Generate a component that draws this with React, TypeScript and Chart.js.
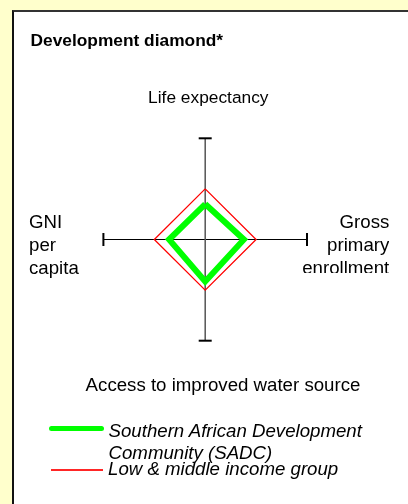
import React, { useEffect, useRef } from "react";
import { Chart, registerables } from "chart.js";

Chart.register(...registerables);

// ---- data ----
const axisLabels = ["Life expectancy", "Gross primary enrollment", "Access to improved water source", "GNI per capita"];
const seriesNames = ["Southern African Development Community (SADC)", "Low & middle income group"];
// values in axis order: top, right, bottom, left
const sadcValues = [35, 38, 41.5, 35.5];
const lowMiddleValues = [50, 50, 50, 50];
const axisMax = 100;

const GREEN = "#00FF00";
const RED = "#FF0000";
const FONT = '"Liberation Sans", Arial, Helvetica, sans-serif';

const dirs = [
  [0, 1],
  [1, 0],
  [0, -1],
  [-1, 0],
];

function toDiamond(vals: number[]) {
  const pts = vals.map((v, i) => ({ x: dirs[i][0] * v, y: dirs[i][1] * v }));
  pts.push({ ...pts[0] });
  return pts;
}

type LabelProps = {
  x: number;
  baseline: number;
  size: number;
  lines: string[];
  lh?: number;
  align?: "left" | "center" | "right";
  italic?: boolean;
  bold?: boolean;
  clipBottom?: number;
};

function Label({ x, baseline, size, lines, lh, align = "left", italic, bold, clipBottom }: LabelProps) {
  const lineH = lh ?? size * 1.15;
  const top = baseline - ((lineH - 1.117 * size) / 2 + 0.905 * size);
  const style: React.CSSProperties = {
    position: "absolute",
    top,
    fontFamily: FONT,
    fontSize: size,
    lineHeight: `${lineH}px`,
    fontStyle: italic ? "italic" : "normal",
    fontWeight: bold ? "bold" : "normal",
    color: "#000",
    whiteSpace: "nowrap",
    textAlign: align,
  };
  if (align === "left") style.left = x;
  if (align === "right") style.right = 408 - x;
  if (align === "center") {
    style.left = x - 200;
    style.width = 400;
  }
  if (clipBottom !== undefined) {
    style.height = clipBottom - top;
    style.overflow = "hidden";
  }
  return (
    <div style={style}>
      {lines.map((l, i) => (
        <div key={i}>{l}</div>
      ))}
    </div>
  );
}

export default function App() {
  const ref = useRef<HTMLCanvasElement>(null);

  useEffect(() => {
    document.body.style.margin = "0";
    if (!ref.current) return;
    const chart = new Chart(ref.current, {
      type: "scatter",
      data: {
        datasets: [
          {
            label: seriesNames[0],
            data: toDiamond(sadcValues),
            showLine: true,
            borderColor: GREEN,
            borderWidth: 6,
            borderJoinStyle: "miter",
            pointRadius: 0,
            order: 0,
            clip: false,
          } as any,
          {
            label: seriesNames[1],
            data: toDiamond(lowMiddleValues),
            showLine: true,
            borderColor: RED,
            backgroundColor: RED,
            borderWidth: 1.3,
            borderJoinStyle: "miter",
            pointRadius: 0,
            order: 1,
            clip: false,
          } as any,
          {
            label: "vertical axis",
            data: [
              { x: 0, y: axisMax },
              { x: 0, y: -axisMax },
            ],
            showLine: true,
            borderColor: "#555555",
            borderWidth: 1.5,
            pointStyle: "line",
            pointRotation: 0,
            pointRadius: 6.5,
            pointBorderWidth: 2,
            pointBorderColor: "#000",
            order: 2,
            clip: false,
          } as any,
          {
            label: "horizontal axis",
            data: [
              { x: -axisMax, y: 0 },
              { x: axisMax, y: 0 },
            ],
            showLine: true,
            borderColor: "#000",
            borderWidth: 1,
            pointStyle: "line",
            pointRotation: 90,
            pointRadius: 6.5,
            pointBorderWidth: 2,
            pointBorderColor: "#000",
            order: 3,
            clip: false,
          } as any,
        ],
      },
      options: {
        responsive: false,
        animation: false,
        events: [],
        layout: {
          autoPadding: false,
          padding: { left: 103.4, right: 101, top: 138.3, bottom: 163.3 },
        },
        scales: {
          x: { type: "linear", min: -axisMax, max: axisMax, display: false },
          y: { type: "linear", min: -axisMax, max: axisMax, display: false },
        },
        plugins: {
          legend: { display: false },
          tooltip: { enabled: false },
          title: { display: false },
        },
      } as any,
    });
    return () => chart.destroy();
  }, []);

  return (
    <div style={{ position: "fixed", left: 0, top: 0, width: 408, height: 504, background: "#FFFFCC", overflow: "hidden" }}>
      <div
        style={{
          position: "absolute",
          left: 12,
          top: 10,
          width: 420,
          height: 520,
          background: "#FFFFFF",
          borderLeft: "2px solid #111",
          borderTop: "2px solid #333",
        }}
      />
      <canvas ref={ref} width={408} height={504} style={{ position: "absolute", left: 0, top: 0, width: 408, height: 504 }} />
      <Label x={30.5} baseline={46.7} size={17.33} bold lines={["Development diamond*"]} />
      <Label x={208.3} baseline={104} size={17.33} align="center" lines={[axisLabels[0]]} />
      <Label x={29} baseline={227.7} size={18.67} lh={23.3} lines={["GNI", "per", "capita"]} />
      <Label x={389.3} baseline={227.7} size={18.67} lh={23.3} align="right" lines={["Gross", "primary", "enrollment"]} clipBottom={273.5} />
      <Label x={223} baseline={391.7} size={18.67} align="center" lines={[axisLabels[2]]} />
      <div style={{ position: "absolute", left: 49, top: 426, width: 55, height: 5, borderRadius: 2.5, background: GREEN }} />
      <div style={{ position: "absolute", left: 51, top: 468.5, width: 52, height: 2, background: RED, opacity: 0.85 }} />
      <Label x={108.5} baseline={437.3} size={18.67} lh={21.4} italic lines={["Southern African Development", "Community (SADC)"]} />
      <Label x={108} baseline={475.7} size={18.67} italic lines={[seriesNames[1]]} />
    </div>
  );
}
